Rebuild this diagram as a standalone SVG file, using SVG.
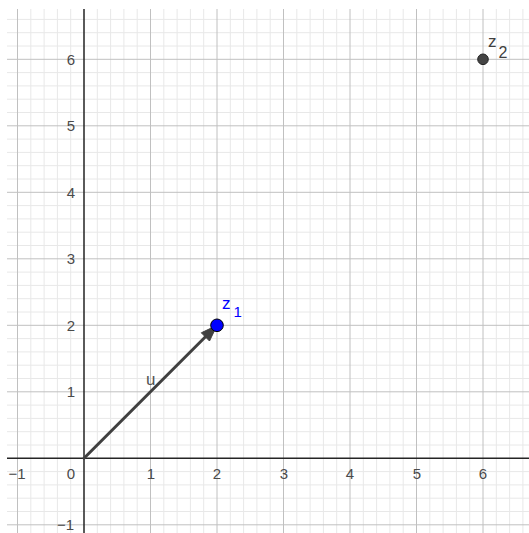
<svg xmlns="http://www.w3.org/2000/svg" width="529" height="533" viewBox="0 0 529 533">
<style>
.minor{stroke:#e8e8e8;stroke-width:1;fill:none}
.major{stroke:#c0c0c0;stroke-width:1;fill:none}
.axis{stroke:#252525;stroke-width:1.5;fill:none}
.tick{font-family:"Liberation Sans",Arial,sans-serif;font-size:15px;fill:#4a4a4a}
.xl{text-anchor:middle}
.yl{text-anchor:end}
.vec{stroke:#404040;stroke-width:3;fill:none;stroke-linecap:round}
.lbl{font-family:"Liberation Sans",Arial,sans-serif;font-size:17px}
</style>
<rect width="529" height="533" fill="#fff"/>
<g id="grid">
<path class="minor" d="M30.8 9V533M44.1 9V533M57.4 9V533M70.7 9V533M97.3 9V533M110.6 9V533M123.9 9V533M137.2 9V533M163.8 9V533M177.1 9V533M190.4 9V533M203.7 9V533M230.3 9V533M243.6 9V533M256.9 9V533M270.2 9V533M296.8 9V533M310.1 9V533M323.4 9V533M336.7 9V533M363.3 9V533M376.6 9V533M389.9 9V533M403.2 9V533M429.8 9V533M443.1 9V533M456.4 9V533M469.7 9V533M496.3 9V533M509.6 9V533M522.9 9V533"/>
<path class="minor" d="M7 511.5H529M7 498.2H529M7 484.9H529M7 471.6H529M7 445H529M7 431.7H529M7 418.4H529M7 405.1H529M7 378.5H529M7 365.2H529M7 351.9H529M7 338.6H529M7 312H529M7 298.7H529M7 285.4H529M7 272.1H529M7 245.5H529M7 232.2H529M7 218.9H529M7 205.6H529M7 179H529M7 165.7H529M7 152.4H529M7 139.1H529M7 112.5H529M7 99.2H529M7 85.9H529M7 72.6H529M7 46H529M7 32.7H529M7 19.4H529"/>
<path class="major" d="M17.5 9V533M150.5 9V533M217 9V533M283.5 9V533M350 9V533M416.5 9V533M483 9V533"/>
<path class="major" d="M7 524.8H529M7 391.8H529M7 325.3H529M7 258.8H529M7 192.3H529M7 125.8H529M7 59.3H529"/>
</g>
<g id="axes">
<path class="axis" d="M7 458.3H529M84 9V533"/>
</g>
<g id="tick-labels" class="tick">
<text class="xl" x="17" y="478.5">−1</text>
<text class="yl" x="75" y="478.5">0</text>
<text class="xl" x="151" y="478.5">1</text>
<text class="xl" x="217" y="478.5">2</text>
<text class="xl" x="284" y="478.5">3</text>
<text class="xl" x="350" y="478.5">4</text>
<text class="xl" x="417" y="478.5">5</text>
<text class="xl" x="483" y="478.5">6</text>
<text class="yl" x="75" y="397">1</text>
<text class="yl" x="75" y="330.5">2</text>
<text class="yl" x="75" y="264">3</text>
<text class="yl" x="75" y="197.5">4</text>
<text class="yl" x="75" y="131">5</text>
<text class="yl" x="75" y="64.5">6</text>
<text class="yl" x="74" y="530">−1</text>
</g>
<g id="connectors">
<g id="vector-u">
<line class="vec" x1="84" y1="458.3" x2="206" y2="336.3"/>
<polygon points="217,325.3 209.5,341 201.3,332.8" fill="#404040" stroke="#404040" stroke-width="1" stroke-linejoin="round"/>
<text class="lbl" x="146" y="385" fill="#555">u</text>
</g>
</g>
<g id="z1">
<circle cx="217" cy="325.3" r="6.3" fill="#0000ff" stroke="#000" stroke-width="1"/>
<text class="lbl" x="222" y="309" fill="#0000ff">z</text>
<text x="233.5" y="317" fill="#0000ff" font-family="Liberation Sans, Arial, sans-serif" font-size="15">1</text>
</g>
<g id="z2">
<circle cx="483" cy="59.3" r="5.3" fill="#444" stroke="#222" stroke-width="1"/>
<text class="lbl" x="488" y="46.5" fill="#404040">z</text>
<text x="498.5" y="58.3" fill="#404040" font-family="Liberation Sans, Arial, sans-serif" font-size="16">2</text>
</g>
</svg>
